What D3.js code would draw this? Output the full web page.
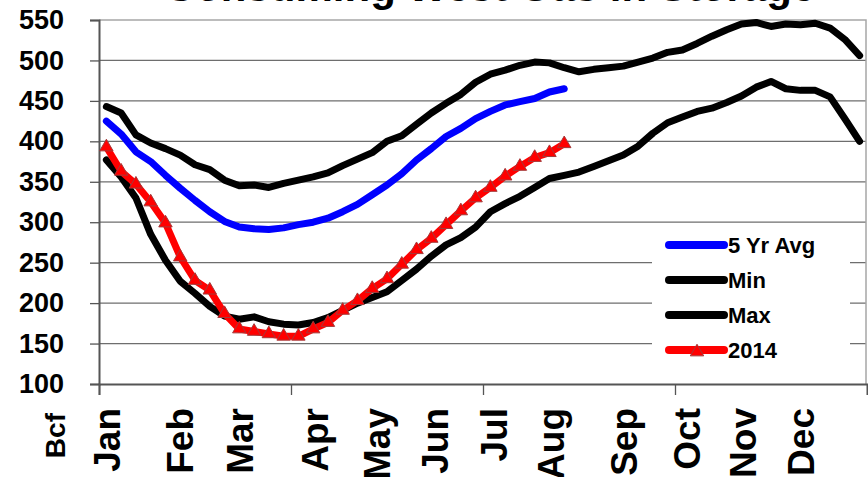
<!DOCTYPE html>
<html lang="en">
<head>
    <meta charset="UTF-8">
    <title>Consuming West Gas in Storage</title>
    <style>
        body, html {
            margin: 0;
            padding: 0;
            background: #fff;
            overflow: hidden;
        }
        svg {
            display: block;
            font-family: "Liberation Sans", Arial, sans-serif;
            font-weight: bold;
        }
        .grid line {
            stroke: #6e6e6e;
            stroke-width: 1.3px;
        }
        .series {
            fill: none;
            stroke-width: 7px;
            stroke-linejoin: round;
            stroke-linecap: round;
        }
    </style>
</head>
<body>
    <script src="https://d3js.org/d3.v7.min.js"></script>
    <script>
        const width = 868;
        const height = 477;

        // weekly storage, Bcf (one value per week of the year)
        const avg5 = [425, 409, 387, 375, 358, 342, 327, 313, 301, 294, 292, 291, 293, 297, 300, 305,
            313, 322, 334, 346, 360, 377, 391, 406, 416, 428, 437, 445, 449, 453, 461, 465];
        const minVals = [377, 356, 330, 285, 253, 227, 212, 196, 184, 180, 183, 177, 174, 173, 176, 182,
            191, 200, 207, 214, 228, 242, 258, 272, 281, 294, 313, 323, 332, 343, 354, 358,
            362, 369, 376, 383, 394, 410, 423, 430, 437, 441, 448, 456, 467, 474, 465, 463,
            463, 455, 428, 400];
        const maxVals = [443, 435, 408, 398, 391, 383, 371, 365, 352, 345, 346, 343, 348, 352, 356, 361,
            370, 378, 386, 400, 407, 421, 435, 447, 458, 473, 483, 488, 494, 498, 497, 491,
            486, 489, 491, 493, 498, 503, 510, 513, 521, 530, 538, 545, 547, 542, 545, 544,
            546, 540, 526, 506];
        const y2014 = [393, 363, 347, 325, 299, 257, 228, 216, 187, 168, 165, 162, 159, 159, 168, 176,
            191, 203, 218, 230, 248, 266, 280, 297, 314, 330, 343, 357, 369, 380, 386, 397];

        const yTicks = [100, 150, 200, 250, 300, 350, 400, 450, 500, 550];
        const months = ["Jan", "Feb", "Mar", "Apr", "May", "Jun", "Jul", "Aug", "Sep", "Oct", "Nov", "Dec"];
        // week of the year where each month label sits
        const monthWeek = [1.42, 6.36, 10.43, 15.5, 19.7, 23.6, 27.6, 31.5, 36.4, 40.7, 44.5, 48.4];
        const quarterWeeks = [0, 13, 26, 39];

        const seriesNames = ["5 Yr Avg", "Min", "Max", "2014"];
        const seriesColors = ["#0000ff", "#000000", "#000000", "#ff0000"];

        const plotL = 99, plotR = 867, plotT = 20, plotB = 384;

        const x = d3.scaleBand().domain(d3.range(52)).range([plotL, plotR]);
        const xw = d3.scaleLinear().domain([0, 52]).range([plotL, plotR]);
        const y = d3.scaleLinear().domain([100, 550]).range([plotB, plotT]);

        const svg = d3.select("body").append("svg")
            .attr("width", width)
            .attr("height", height);

        // title, mostly above the visible area
        svg.append("text")
            .attr("x", 490)
            .attr("y", 0.5)
            .attr("text-anchor", "middle")
            .style("font-size", "42px")
            .text("Consuming West Gas in Storage");

        // gridlines
        svg.append("g").attr("class", "grid")
            .selectAll("line")
            .data(yTicks.filter(d => d > 100 && d < 550))
            .enter().append("line")
            .attr("x1", plotL).attr("x2", plotR - 1)
            .attr("y1", d => y(d)).attr("y2", d => y(d));

        // plot border top/right
        svg.append("path")
            .attr("d", `M${plotL},${plotT}H${plotR - 1}V${plotB}`)
            .attr("fill", "none")
            .attr("stroke", "#a6a6a6")
            .attr("stroke-width", 1.5);

        // y axis
        const yAxis = svg.append("g")
            .attr("transform", `translate(${plotL},0)`)
            .call(d3.axisLeft(y).tickValues(yTicks).tickSize(9).tickPadding(26));
        yAxis.select(".domain").attr("stroke", "#555").attr("stroke-width", 2);
        yAxis.selectAll(".tick line").attr("stroke", "#555").attr("stroke-width", 1.3);
        yAxis.selectAll(".tick text")
            .attr("fill", "#000")
            .style("font-size", "27px")
            .style("font-family", "'Liberation Sans', Arial, sans-serif")
            .style("font-weight", "bold");

        // x axis
        const xAxis = svg.append("g")
            .attr("transform", `translate(0,${plotB})`)
            .call(d3.axisBottom(xw).tickValues(quarterWeeks).tickSize(11).tickFormat(""));
        xAxis.select(".domain").attr("stroke", "#555").attr("stroke-width", 2);
        xAxis.selectAll(".tick line").attr("stroke", "#555").attr("stroke-width", 1.3);

        // rotated month labels
        svg.selectAll(".month")
            .data(months)
            .enter().append("text")
            .attr("class", "month")
            .attr("transform", (d, i) => `translate(${xw(monthWeek[i])},408) rotate(-90)`)
            .attr("text-anchor", "end")
            .style("font-size", "37px")
            .text(d => d);

        svg.append("text")
            .attr("transform", "translate(65,413) rotate(-90)")
            .attr("text-anchor", "end")
            .style("font-size", "28px")
            .text("Bcf");

        // series
        const line = d3.line()
            .x((d, i) => x(i) + x.bandwidth() / 2)
            .y(d => y(d));

        const allSeries = [avg5, minVals, maxVals, y2014];
        svg.selectAll(".series")
            .data(allSeries)
            .enter().append("path")
            .attr("class", "series")
            .attr("stroke", (d, i) => seriesColors[i])
            .attr("d", line);

        const tri = d3.symbol(d3.symbolTriangle).size(78);
        svg.selectAll(".marker")
            .data(y2014)
            .enter().append("path")
            .attr("class", "marker")
            .attr("transform", (d, i) => `translate(${x(i) + x.bandwidth() / 2},${y(d)})`)
            .attr("d", tri)
            .attr("fill", "#ff0000")
            .attr("stroke", "#a33a3a")
            .attr("stroke-width", 1);

        // legend
        const legend = svg.append("g");
        legend.append("rect")
            .attr("x", 652).attr("y", 227)
            .attr("width", 198).attr("height", 154)
            .attr("fill", "#fff");

        const rows = legend.selectAll(".row")
            .data(seriesNames)
            .enter().append("g")
            .attr("class", "row")
            .attr("transform", (d, i) => `translate(0,${245 + i * 35})`);

        rows.append("line")
            .attr("x1", 669).attr("x2", 724)
            .attr("stroke", (d, i) => seriesColors[i])
            .attr("stroke-width", 8)
            .attr("stroke-linecap", "round");

        rows.filter(d => d === "2014").append("path")
            .attr("transform", "translate(697,2)")
            .attr("d", tri)
            .attr("fill", "#ff0000")
            .attr("stroke", "#a33a3a");

        rows.append("text")
            .attr("x", 728)
            .attr("dy", "0.35em")
            .style("font-size", "22px")
            .text(d => d);
    </script>
</body>
</html>
